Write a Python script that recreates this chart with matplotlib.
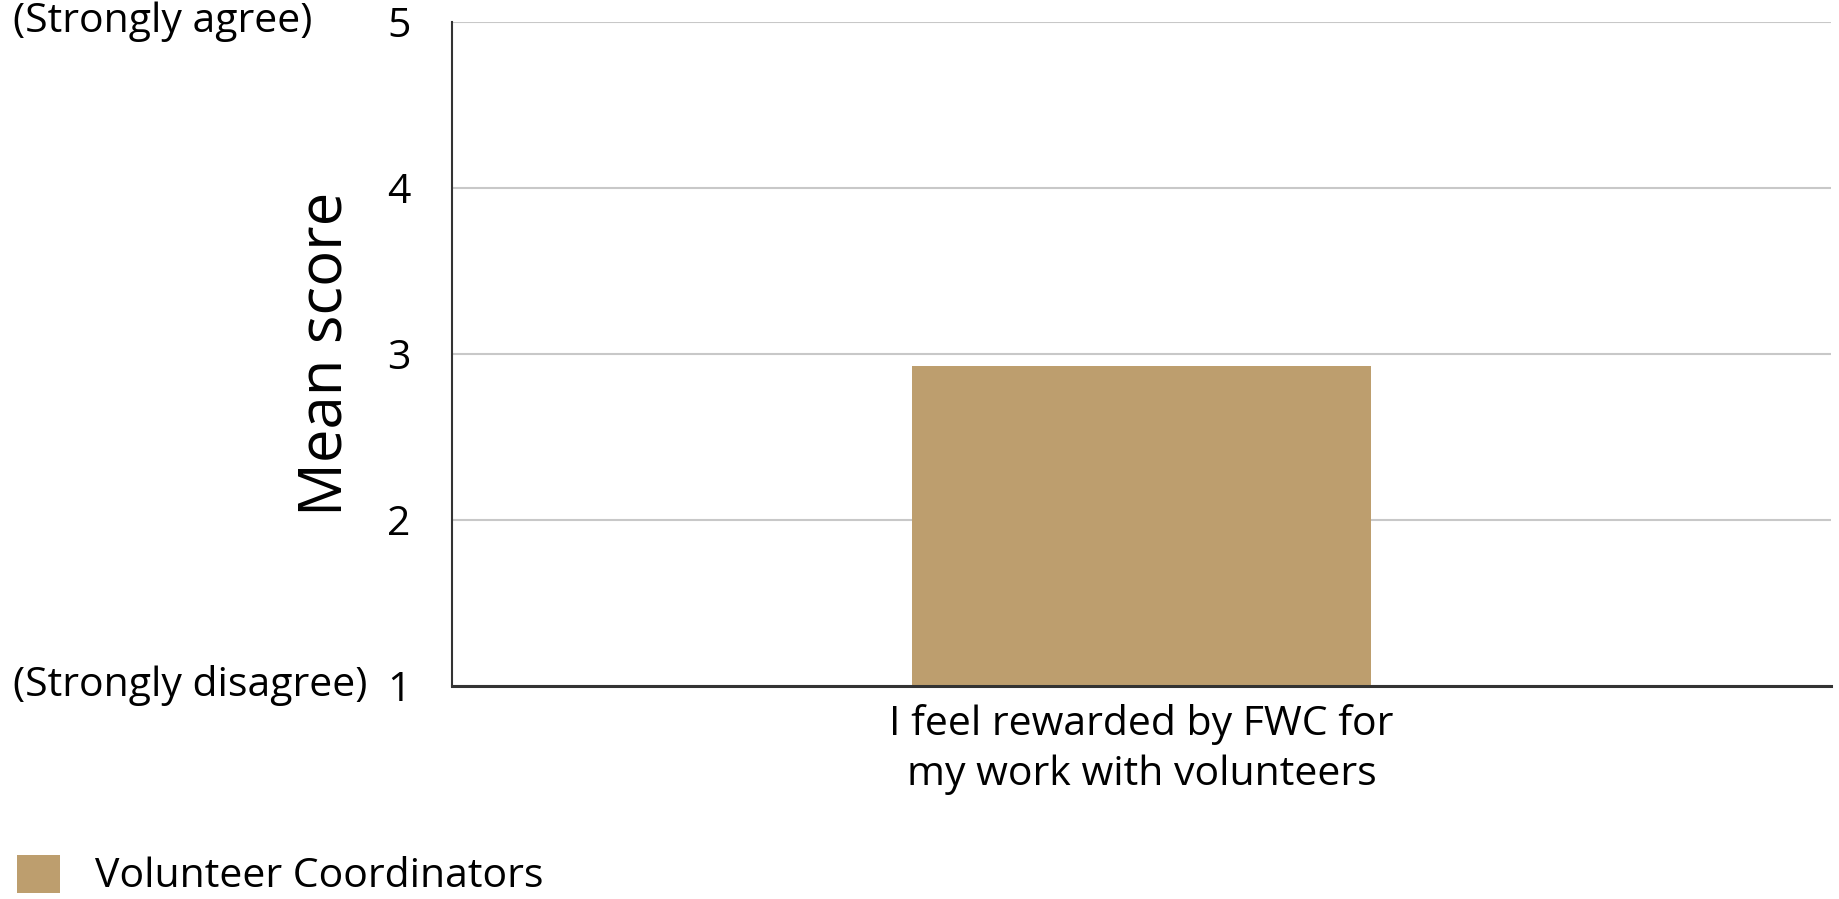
import matplotlib
matplotlib.use('Agg')
import matplotlib.pyplot as plt
from matplotlib.patches import Patch
import matplotlib.transforms as mtransforms

plt.rcParams['font.family'] = ['Open Sans', 'DejaVu Sans']
plt.rcParams['font.weight'] = 500

# 数据
categories = ['I feel rewarded by FWC for\nmy work with volunteers']
mean_scores = [2.93]
series_name = 'Volunteer Coordinators'
y_ticks = [1, 2, 3, 4, 5]
scale_ends = {1: '(Strongly disagree)', 5: '(Strongly agree)'}

bar_color = '#BD9E6E'
W, H = 1839, 899
fs = 29.5

fig = plt.figure(figsize=(W / 100, H / 100), dpi=100)
ax = fig.add_axes([452 / W, 1 - 686 / H, (1831 - 452) / W, (686 - 22) / H])

x = list(range(len(categories)))
ax.bar(x, [v - 1 for v in mean_scores], bottom=1, width=1, color=bar_color, zorder=2)

ax.set_xlim(-1.5, 1.5)
ax.set_ylim(1, 5)
ax.set_yticks(y_ticks)
ax.set_yticklabels([str(t) for t in y_ticks])
ax.set_xticks(x)
ax.set_xticklabels(categories, linespacing=1.3)

ax.tick_params(axis='y', length=0, pad=30, labelsize=fs)
ax.tick_params(axis='x', length=0, pad=13, labelsize=fs)

ax.grid(axis='y', color='#c8c8c8', linewidth=1.5, zorder=0)
ax.set_axisbelow(True)
for s in ['top', 'right']:
    ax.spines[s].set_visible(False)
ax.spines['left'].set_color('#333333')
ax.spines['left'].set_linewidth(1.5)
ax.spines['bottom'].set_color('#333333')
ax.spines['bottom'].set_linewidth(2.2)
ax.spines['bottom'].set_zorder(3)

# 量表两端说明
trans = mtransforms.blended_transform_factory(fig.transFigure, ax.transData)
for val, txt in scale_ends.items():
    fig.text(13 / W, val, txt, transform=trans, ha='left', va='center', fontsize=fs)

fig.text(325 / W, 1 - 354 / H, 'Mean score', rotation=90, ha='center', va='center', fontsize=43)

handles = [Patch(facecolor=bar_color, edgecolor='none', label=series_name)]
fig.legend(handles=handles, loc='center left', bbox_to_anchor=(17 / W, 1 - 876 / H),
           frameon=False, fontsize=fs, handlelength=1.05, handleheight=1.05,
           handletextpad=0.85, borderpad=0, borderaxespad=0)

fig.savefig('out.png', dpi=100)
plt.close(fig)
